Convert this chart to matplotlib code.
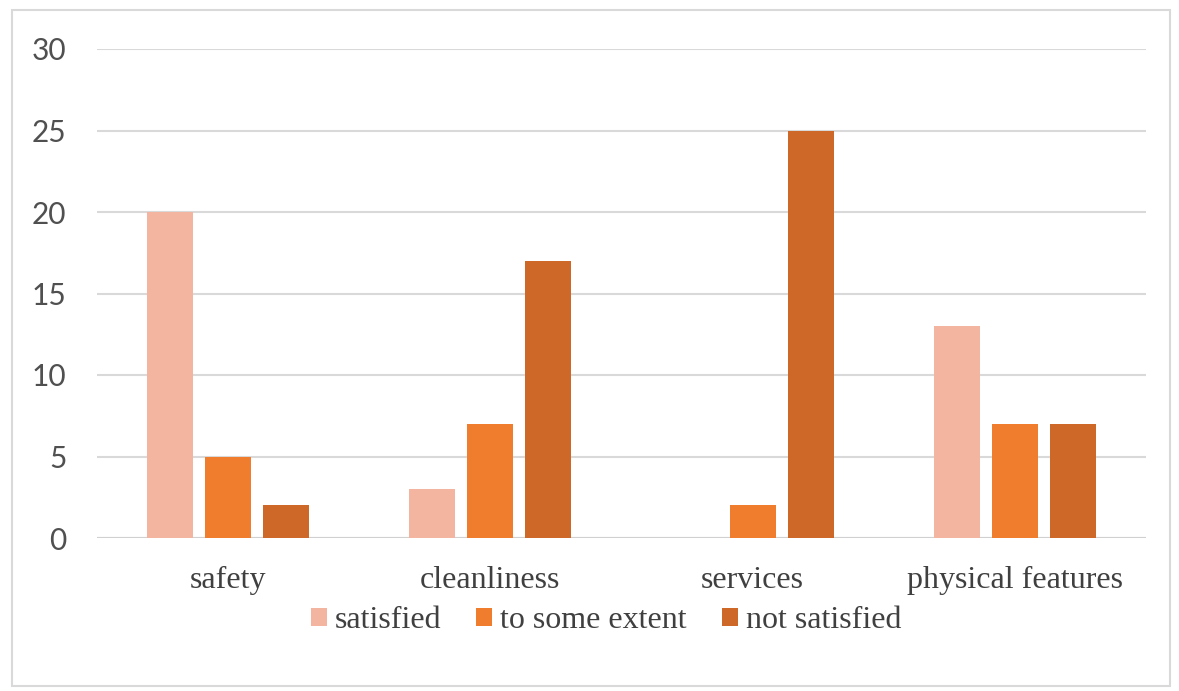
import numpy as np
import matplotlib
matplotlib.use("Agg")
import matplotlib.pyplot as plt
from matplotlib.patches import Rectangle

categories = ["safety", "cleanliness", "services", "physical features"]
series_names = ["satisfied", "to some extent", "not satisfied"]
satisfied = [20, 3, 0, 13]
to_some_extent = [5, 7, 2, 7]
not_satisfied = [2, 17, 25, 7]
y_ticks = [0, 5, 10, 15, 20, 25, 30]

colors = ["#F3B5A0", "#EF7D2D", "#CD6829"]
W, H = 1179, 691

fig = plt.figure(figsize=(W / 100, H / 100), dpi=100)
ax = fig.add_axes([97 / W, 1 - 538 / H, (1146 - 97) / W, (538 - 49) / H])

# outer chart border
fig.patches.append(Rectangle((12 / W, 1 - 686 / H), (1170 - 12) / W, (686 - 10) / H,
                             transform=fig.transFigure, fill=False,
                             edgecolor="#d9d9d9", linewidth=1.5))

x = np.arange(len(categories))
width = 0.175
offset = 0.221
for i, (vals, name) in enumerate(zip([satisfied, to_some_extent, not_satisfied], series_names)):
    ax.bar(x + (i - 1) * offset, vals, width, color=colors[i], label=name, zorder=3)

ax.set_xlim(-0.5, len(categories) - 0.5)
ax.set_ylim(0, 30)
ax.set_yticks(y_ticks)
ax.yaxis.grid(True, color="#d9d9d9", linewidth=1.5, zorder=0)
ax.set_axisbelow(True)
for s in ["top", "right", "left", "bottom"]:
    ax.spines[s].set_visible(False)
ax.axhline(0, color="#d0d0d0", linewidth=1.5, zorder=1)

ax.set_xticks(x)
ax.set_xticklabels(categories, family="Liberation Serif", fontsize=23, color="#404040")
ax.tick_params(axis="x", length=0, pad=20)
ax.tick_params(axis="y", length=0, pad=22, labelsize=21.5, labelcolor="#505050")
for lbl in ax.get_yticklabels():
    lbl.set_family("Lato")

leg = fig.legend(loc="center", bbox_to_anchor=(606 / W, 1 - 621 / H), ncol=3,
                 frameon=False, prop={"family": "Liberation Serif", "size": 23},
                 handlelength=0.5, handleheight=0.5, handletextpad=0.25,
                 columnspacing=1.1)
for t in leg.get_texts():
    t.set_color("#404040")
    t.set_family("Liberation Serif")

fig.savefig("out.png", dpi=100)
